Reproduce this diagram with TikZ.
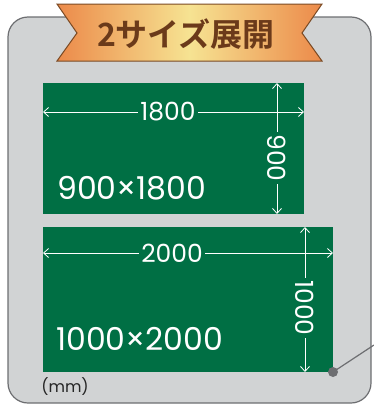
\documentclass[tikz,border=0pt]{standalone}
\usepackage{fontspec}
\setmainfont{Poppins}
\newfontfamily\jpfont{Noto Sans CJK JP}[BoldFont={* Bold}]
\usetikzlibrary{arrows.meta}

\definecolor{panelgray}{HTML}{D1D3D4}
\definecolor{panelline}{HTML}{6D6E71}
\definecolor{boardgreen}{HTML}{006F44}
\definecolor{ribbonedge}{HTML}{EC8A4A}
\definecolor{ribbonmid}{HTML}{F6E392}
\definecolor{ribbonline}{HTML}{7A4A24}
\definecolor{titlebrown}{HTML}{6B3A1A}

\begin{document}
\begin{tikzpicture}[x=1pt,y=-1pt,
		dimarrow/.style={draw=white,line width=0.8pt,{Straight Barb[length=5pt,width=9pt]}-{Straight Barb[length=5pt,width=9pt]}},
		dimlabel/.style={fill=boardgreen,text=white,inner sep=2pt,font=\fontsize{25}{25}\selectfont},
		sizelabel/.style={text=white,anchor=base west,inner sep=0pt,font=\fontsize{31.5}{31.5}\selectfont},
		board/.style={fill=boardgreen}]
		
		\useasboundingbox (0,0) rectangle (374,407);
		
		% gray panel
		\draw[fill=panelgray,draw=panelline,line width=1.2pt,rounded corners=20pt] (8,17) rectangle (371,403);
		
		% ribbon with title
		\path[draw=ribbonline,line width=1pt,left color=ribbonedge,right color=ribbonedge,middle color=ribbonmid]
			(57,4) -- (322,4) -- (302,33) -- (322,61) -- (57,61) -- (77,33) -- cycle;
		\node[text=titlebrown,font=\jpfont\bfseries\fontsize{32}{32}\selectfont] (title) at (186,34) {2サイズ展開};
		
		% small board
		\path[board] (43,83) rectangle (304,214);
		\coordinate (sl) at (43,112);
		\coordinate (sr) at (304,112);
		\coordinate (st) at (277,83);
		\coordinate (sb) at (277,214);
		\draw[dimarrow] (sl) -- (sr);
		\draw[dimarrow] (st) -- (sb);
		\node[dimlabel] (w1) at (168,112) {1800};
		\node[dimlabel,rotate=-90] (h1) at (277,158) {900};
		\node[sizelabel] (s1) at (57,199) {900×1800};
		
		% large board
		\path[board] (43,227) rectangle (333,372);
		\coordinate (ll) at (43,253);
		\coordinate (lr) at (333,253);
		\coordinate (lt) at (305,227);
		\coordinate (lb) at (305,372);
		\draw[dimarrow] (ll) -- (lr);
		\draw[dimarrow] (lt) -- (lb);
		\node[dimlabel] (w2) at (172,253) {2000};
		\node[dimlabel,rotate=-90] (h2) at (305,308) {1000};
		\node[sizelabel] (s2) at (56,350) {1000×2000};
		
		% pointer dot
		\node[circle,fill=panelline,inner sep=0pt,minimum size=10pt] (dot) at (333,372) {};
		\coordinate (tip) at (374,345);
		\draw[panelline,line width=1.2pt] (dot.center) -- (tip);
		
		\node[text=black!85,font=\fontsize{16}{16}\selectfont] (unit) at (65,387) {(mm)};
	\end{tikzpicture}
\end{document}
